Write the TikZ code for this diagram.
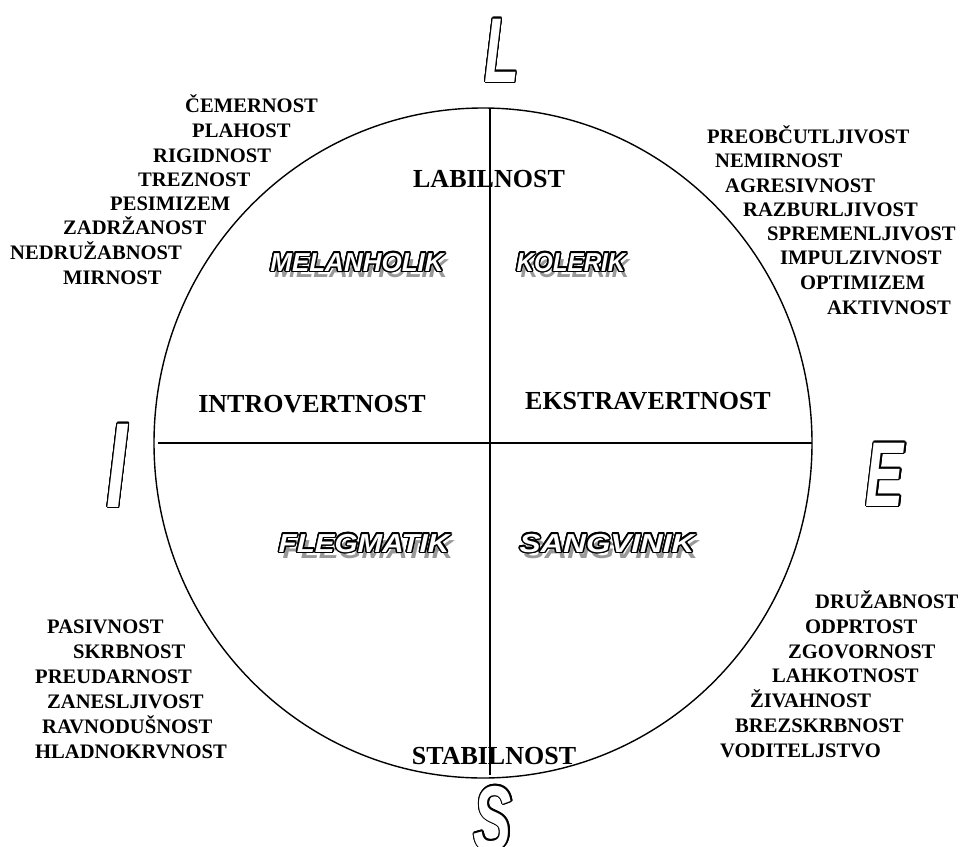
\documentclass[tikz,border=0pt]{standalone}
\usepackage{fontspec}
\setmainfont{Liberation Serif}
\newfontfamily\artfont{Liberation Sans}
\newfontfamily\axisfont{Liberation Sans}[FakeStretch=0.62]
\usepackage{contour}
\contourlength{1.1pt}
\usetikzlibrary{positioning}

% hollow letters with a grey drop shadow, optional stretch
\newcommand{\artword}[2][1]{\addfontfeature{FakeStretch=#1}\contourlength{1.5pt}%
  \rlap{\hspace{4pt}\raisebox{-6pt}{\textcolor{black!40}{#2}}}\textcolor{white}{\contour{black}{#2}}}
\newcommand{\hollow}[1]{\textcolor{white}{\contour{black}{#1}}}

\begin{document}
\begin{tikzpicture}[
    x=1pt, y=-1pt,
    every node/.style={inner sep=0pt},
    trait/.style={anchor=base west, font=\bfseries\fontsize{20.6}{24}\selectfont},
    pole/.style={anchor=base, font=\bfseries\fontsize{26}{30}\selectfont},
    temper/.style={anchor=base, font=\artfont\bfseries\itshape\fontsize{26}{30}\selectfont},
    axisletter/.style={anchor=base, font=\axisfont\bfseries\itshape\fontsize{92}{100}\selectfont},
    axis/.style={line width=1.4pt},
]
\useasboundingbox (0,0) rectangle (963,846);

% Circle and the two axes
\coordinate (top) at (490,108);
\coordinate (bottom) at (490,775);
\coordinate (left) at (158,443);
\coordinate (right) at (812,443);
\draw[axis] (483,443) ellipse [x radius=329, y radius=335];
\draw[axis] (top) -- (bottom);
\draw[axis] (left) -- (right);

% Big axis letters
\node[axisletter] (L) at (502,82) {\hollow{L}};
\node[axisletter, font=\axisfont\bfseries\itshape\fontsize{121}{130}\selectfont] (I) at (117,507) {\hollow{I}};
\node[axisletter] (E) at (885,506) {\hollow{E}};
\node[axisletter] (S) at (493,850) {\hollow{S}};

% Poles inside the circle
\node[pole] (labil) at (489,187) {LABILNOST};
\node[pole] (stabil) at (494,764) {STABILNOST};
\node[pole] (intro) at (312,412) {INTROVERTNOST};
\node[pole] (ekstra) at (648,409) {EKSTRAVERTNOST};

% Temperaments
\node[temper] (melanholik) at (357,271) {\artword[1.0]{MELANHOLIK}};
\node[temper] (kolerik) at (571,271) {\artword[0.93]{KOLERIK}};
\node[temper] (flegmatik) at (364,552) {\artword[1.14]{FLEGMATIK}};
\node[temper] (sangvinik) at (607,552) {\artword[1.21]{SANGVINIK}};

% Melancholic traits
\node[trait] (m1) at (185,112) {ČEMERNOST};
\node[trait] (m2) at (192,137) {PLAHOST};
\node[trait] (m3) at (153,162) {RIGIDNOST};
\node[trait] (m4) at (138,186) {TREZNOST};
\node[trait] (m5) at (110,210) {PESIMIZEM};
\node[trait] (m6) at (63,234) {ZADRŽANOST};
\node[trait] (m7) at (10,259) {NEDRUŽABNOST};
\node[trait] (m8) at (63,284) {MIRNOST};

% Choleric traits
\node[trait] (k1) at (707,143) {PREOBČUTLJIVOST};
\node[trait] (k2) at (715,167) {NEMIRNOST};
\node[trait] (k3) at (725,192) {AGRESIVNOST};
\node[trait] (k4) at (743,216) {RAZBURLJIVOST};
\node[trait] (k5) at (767,240) {SPREMENLJIVOST};
\node[trait] (k6) at (780,264) {IMPULZIVNOST};
\node[trait] (k7) at (800,289) {OPTIMIZEM};
\node[trait] (k8) at (827,314) {AKTIVNOST};

% Phlegmatic traits
\node[trait] (f1) at (47,633) {PASIVNOST};
\node[trait] (f2) at (73,658) {SKRBNOST};
\node[trait] (f3) at (35,683) {PREUDARNOST};
\node[trait] (f4) at (47,708) {ZANESLJIVOST};
\node[trait] (f5) at (42,733) {RAVNODUŠNOST};
\node[trait] (f6) at (35,758) {HLADNOKRVNOST};

% Sanguine traits
\node[trait] (s1) at (815,608) {DRUŽABNOST};
\node[trait] (s2) at (805,633) {ODPRTOST};
\node[trait] (s3) at (788,658) {ZGOVORNOST};
\node[trait] (s4) at (772,682) {LAHKOTNOST};
\node[trait] (s5) at (750,707) {ŽIVAHNOST};
\node[trait] (s6) at (735,732) {BREZSKRBNOST};
\node[trait] (s7) at (720,757) {VODITELJSTVO};
\end{tikzpicture}
\end{document}
